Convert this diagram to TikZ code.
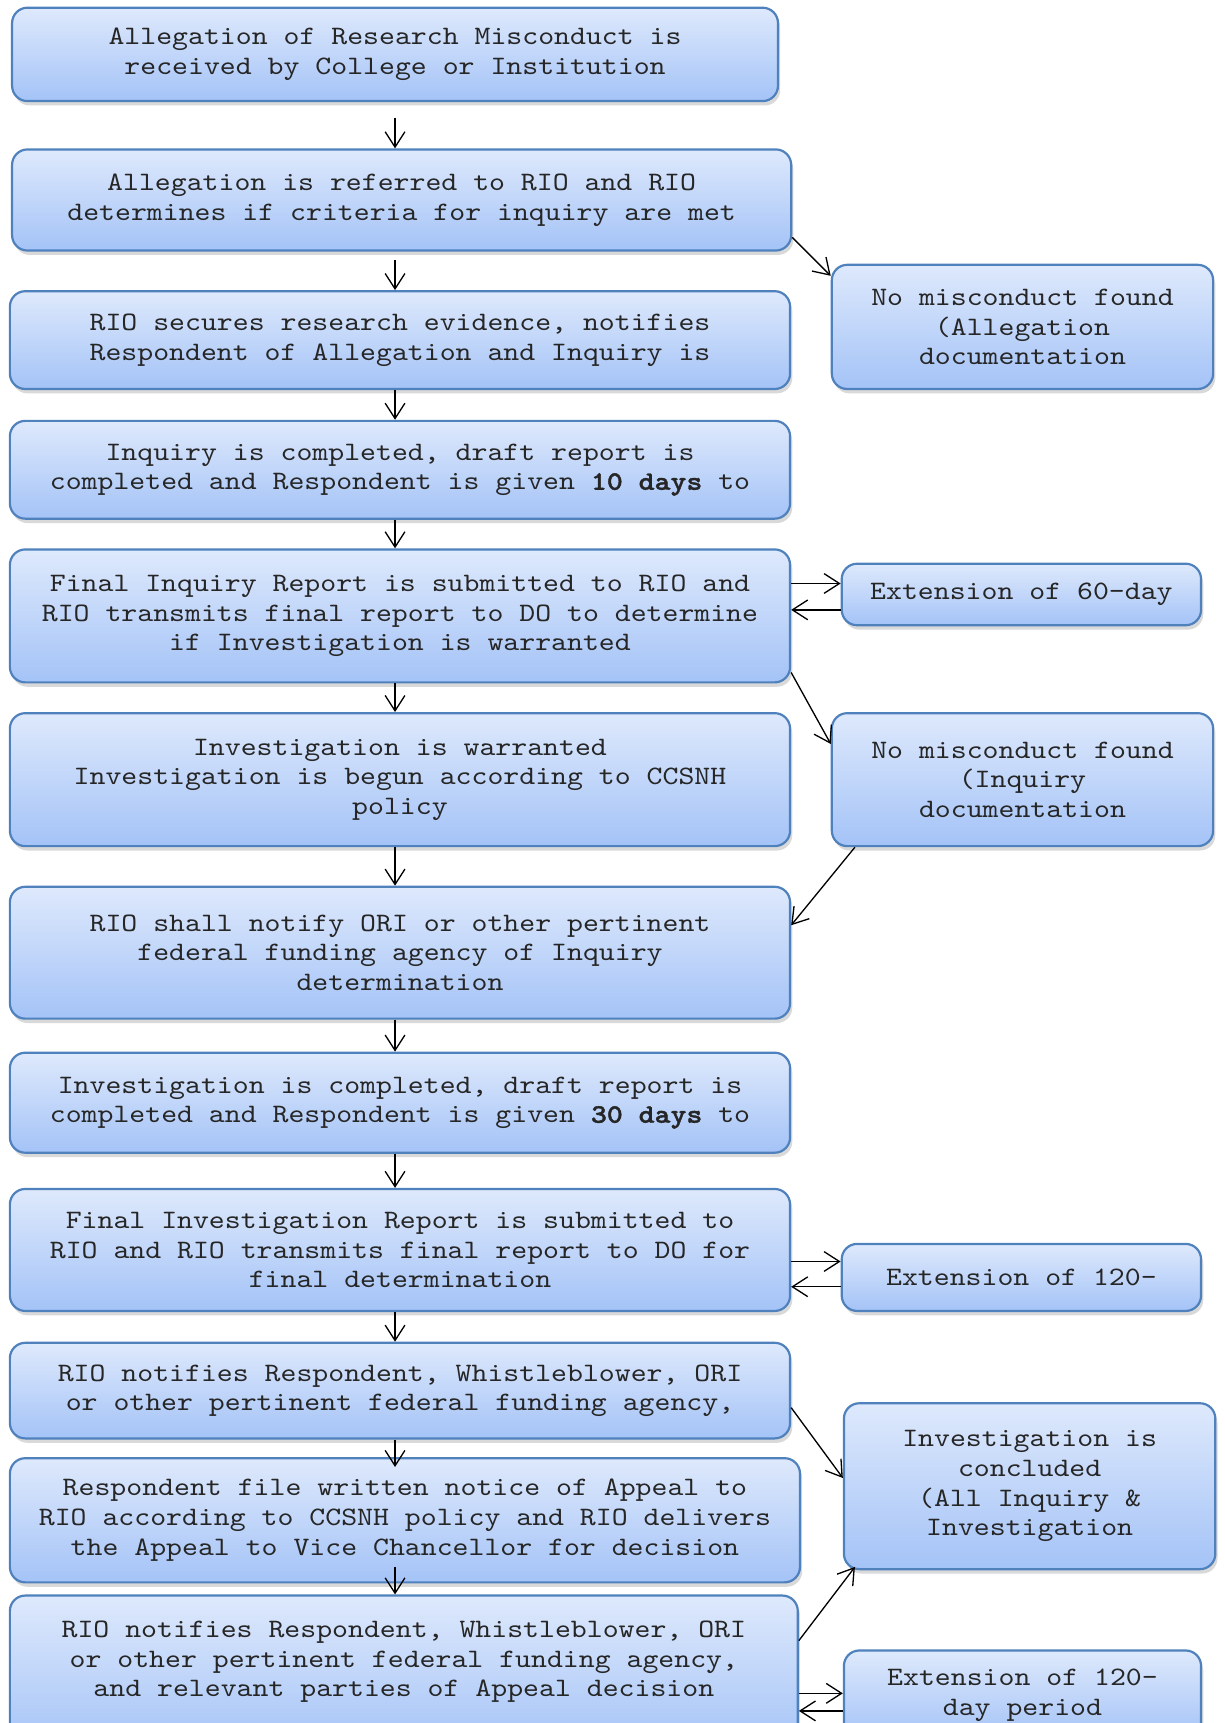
\documentclass[tikz,border=0pt]{standalone}
\usepackage{fontspec}
\setmonofont{lmmono10-regular}[Extension=.otf,BoldFont=lmmonolt10-bold,BoldFeatures={FakeBold=1.5},FakeStretch=1.14]
\usetikzlibrary{arrows.meta,shadows}
\definecolor{boxtop}{RGB}{222,233,252}
\definecolor{boxbot}{RGB}{164,195,247}
\definecolor{boxline}{RGB}{79,129,189}

\begin{document}
\begin{tikzpicture}[x=0.5pt,y=-0.5pt,
  font=\ttfamily\fontsize{12.1}{13.5}\selectfont,
  box/.style={draw=boxline,line width=1pt,rounded corners=7pt,
    top color=boxtop,bottom color=boxbot,text=black!85,align=center,inner sep=0pt,
    drop shadow={opacity=0.3,shadow xshift=1pt,shadow yshift=-2pt}},
  flow/.style={-{Straight Barb[length=7pt,width=9pt]},line width=0.6pt}]
\clip (0,0) rectangle (1114,1568);
% main column
\node [box,minimum width=348.5pt,minimum height=42.5pt] (b1) at (359.5,49.5) {Allegation of Research Misconduct is\\received by College or Institution};
\node [box,minimum width=354.5pt,minimum height=46pt] (b2) at (365.5,182) {Allegation is referred to RIO and RIO\\determines if criteria for inquiry are met};
\node [box,minimum width=355pt,minimum height=44.5pt] (b3) at (364,309.5) {RIO secures research evidence, notifies\\Respondent of Allegation and Inquiry is};
\node [box,minimum width=355pt,minimum height=44.5pt] (b4) at (364,427.5) {Inquiry is completed, draft report is\\completed and Respondent is given \textbf{10 days} to};
\node [box,minimum width=355pt,minimum height=60.5pt] (b5) at (364,560.5) {Final Inquiry Report is submitted to RIO and\\RIO transmits final report to DO to determine\\if Investigation is warranted};
\node [box,minimum width=355pt,minimum height=60.5pt] (b6) at (364,709.5) {Investigation is warranted\\Investigation is begun according to CCSNH\\policy};
\node [box,minimum width=355pt,minimum height=60pt] (b7) at (364,867) {RIO shall notify ORI or other pertinent\\federal funding agency of Inquiry\\determination};
\node [box,minimum width=355pt,minimum height=45.5pt] (b8) at (364,1003.5) {Investigation is completed, draft report is\\completed and Respondent is given \textbf{30 days} to};
\node [box,minimum width=355pt,minimum height=55.5pt] (b9) at (364,1137.5) {Final Investigation Report is submitted to\\RIO and RIO transmits final report to DO for\\final determination};
\node [box,minimum width=355pt,minimum height=43.5pt] (b10) at (364,1265.5) {RIO notifies Respondent, Whistleblower, ORI\\or other pertinent federal funding agency,};
\node [box,minimum width=359.5pt,minimum height=56.5pt] (b11) at (368.5,1383.5) {Respondent file written notice of Appeal to\\RIO according to CCSNH policy and RIO delivers\\the Appeal to Vice Chancellor for decision};
\node [box,minimum width=358.5pt,minimum height=71pt] (b12) at (367.5,1523) {RIO notifies Respondent, Whistleblower, ORI\\or other pertinent federal funding agency,\\and relevant parties of Appeal decision\\\mbox{}};
% right column
\node [box,minimum width=173.5pt,minimum height=56.5pt] (r1) at (930.5,297.5) {No misconduct found\\(Allegation\\documentation};
\node [box,minimum width=163.5pt,minimum height=28pt] (r2) at (929.5,541) {Extension of 60-day};
\node [box,minimum width=173.5pt,minimum height=60.5pt] (r3) at (930.5,709.5) {No misconduct found\\(Inquiry\\documentation};
\node [box,minimum width=163.5pt,minimum height=30.5pt] (r4) at (929.5,1162.5) {Extension of 120-};
\node [box,minimum width=169pt,minimum height=75.5pt] (r5) at (937,1352.5) {Investigation is\\concluded\\(All Inquiry \&\\Investigation};
\node [box,minimum width=162.5pt,minimum height=40.5pt] (r6) at (930.5,1542.5) {Extension of 120-\\day period};
% main flow
\draw [flow,shorten <=7pt] (b1.south) -- (b1.south |- b2.north);
\draw [flow,shorten <=4pt] (b2.south -| b1.south) -- (b3.north -| b1.south);
\draw [flow] (b3.south -| b1.south) -- (b4.north -| b1.south);
\draw [flow] (b4.south -| b1.south) -- (b5.north -| b1.south);
\draw [flow] (b5.south -| b1.south) -- (b6.north -| b1.south);
\draw [flow] (b6.south -| b1.south) -- (b7.north -| b1.south);
\draw [flow] (b7.south -| b1.south) -- (b8.north -| b1.south);
\draw [flow] (b8.south -| b1.south) -- (b9.north -| b1.south);
\draw [flow] (b9.south -| b1.south) -- (b10.north -| b1.south);
\draw [flow,shorten >=-4.5pt] (b10.south -| b1.south) -- (b11.north -| b1.south);
\draw [flow,shorten <=-7.5pt] (b11.south -| b1.south) -- (b12.north -| b1.south);
% side branches
\draw [flow] ([yshift=-17pt]b2.east) -- ([yshift=23.25pt]r1.west);
\draw [flow] ([yshift=14.75pt]b5.east) -- ([yshift=14.75pt]b5.east -| r2.west);
\draw [flow] ([yshift=-7pt]r2.west) -- ([yshift=-7pt]r2.west -| b5.east);
\draw [flow] ([yshift=-25.75pt]b5.east) -- ([yshift=16.25pt]r3.west);
\draw [flow] ([xshift=11pt]r3.south west) -- ([yshift=12.5pt]b7.east);
\draw [flow] ([yshift=-5.25pt]b9.east) -- ([yshift=-5.25pt]b9.east -| r4.west);
\draw [flow] ([yshift=-4.25pt]r4.west) -- ([yshift=-4.25pt]r4.west -| b9.east);
\draw [flow] ([yshift=-7.75pt]b10.east) -- ([yshift=3.75pt]r5.west);
\draw [flow] ([yshift=15pt]b12.east) -- ([xshift=5.5pt,yshift=1.5pt]r5.south west);
\draw [flow] ([yshift=-9pt]b12.east) -- ([yshift=-9pt]b12.east -| r6.west);
\draw [flow] ([yshift=-7.25pt]r6.west) -- ([yshift=-7.25pt]r6.west -| b12.east);
\end{tikzpicture}
\end{document}
